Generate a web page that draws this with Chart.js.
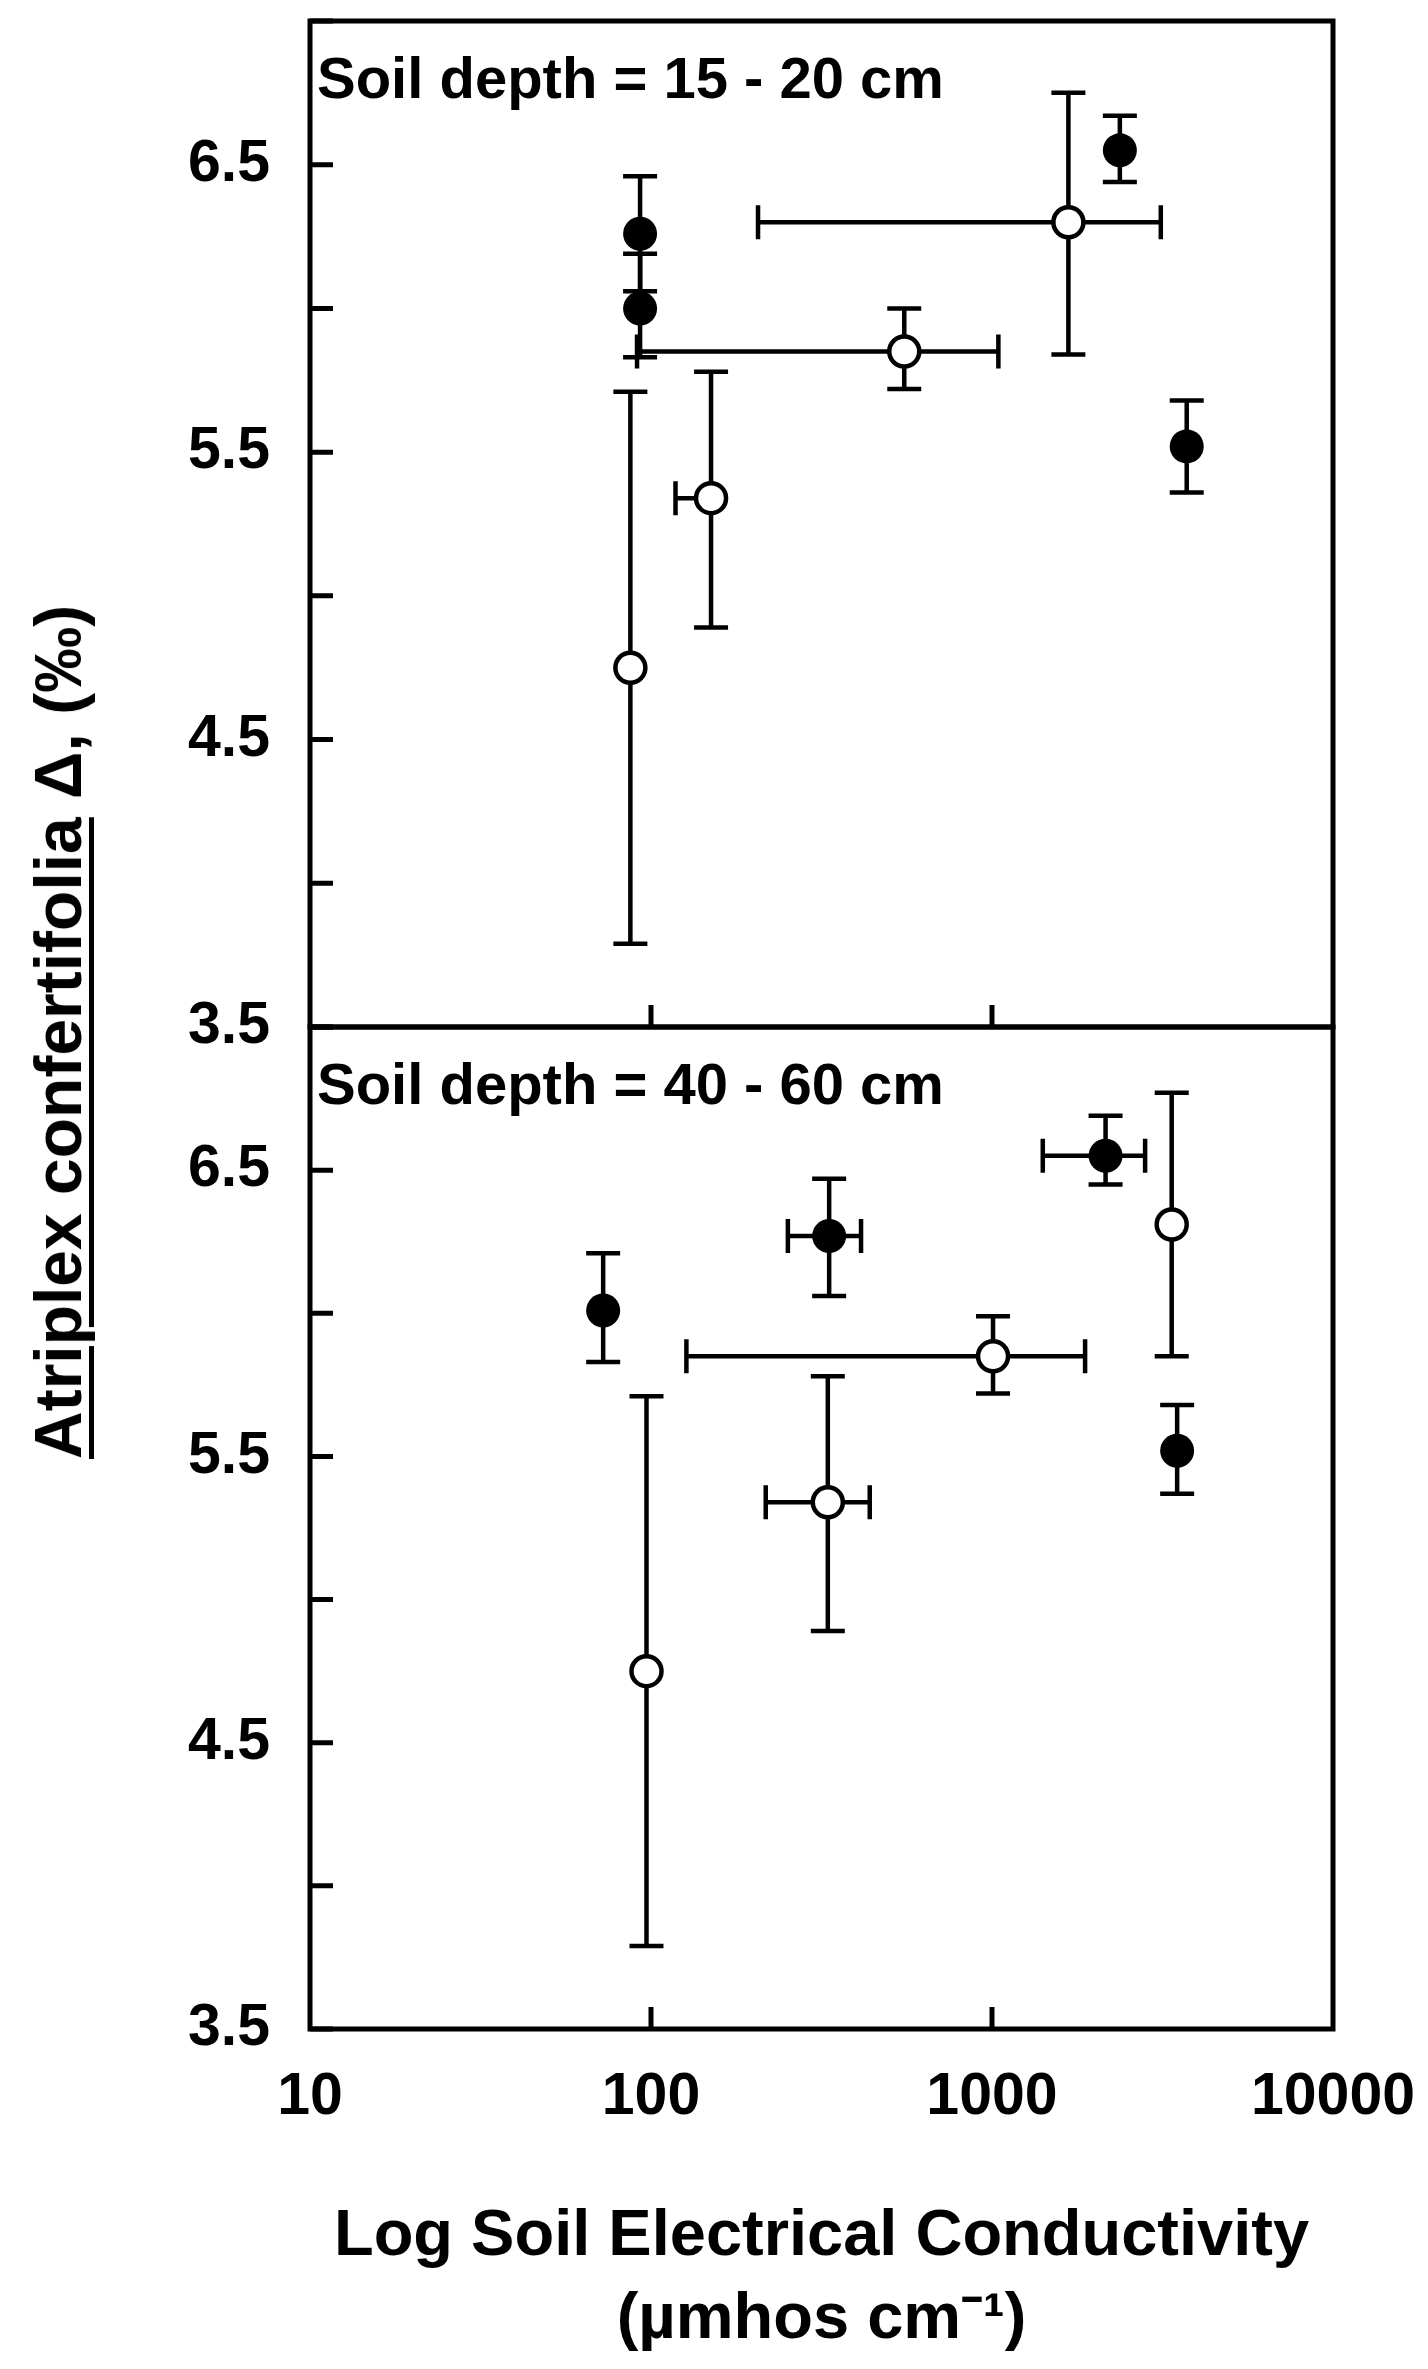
<!DOCTYPE html>
<html>
<head>
<meta charset="utf-8">
<script src="https://cdn.jsdelivr.net/npm/chart.js@4.4.1/dist/chart.umd.min.js"></script>
<style>
  html, body { margin: 0; padding: 0; background: #fff; }
  #wrap { position: relative; width: 1428px; height: 2369px; overflow: hidden; }
  canvas { position: absolute; left: 0; }
  #topChart { top: 0; }
  #botChart { top: 1000px; }
  #ytitle {
    position: absolute; left: 58px; top: 1032px;
    transform: translate(-50%, -50%) rotate(-90deg);
    font: bold 66px "Liberation Sans", Arial, sans-serif; line-height: 1;
    white-space: nowrap; color: #000;
  }
  #ytitle u { text-decoration-thickness: 5px; text-underline-offset: 8px; }
</style>
</head>
<body>
<div id="wrap">
  <canvas id="topChart" width="1428" height="1100"></canvas>
  <canvas id="botChart" width="1428" height="1369"></canvas>
  <div id="ytitle"><u>Atriplex confertifolia</u> Δ, (‰)</div>
</div>
<script>
const panelLabels = ["Soil depth = 15 - 20 cm", "Soil depth = 40 - 60 cm"];
const xTicks = [10, 100, 1000, 10000];
const yLabelled = [3.5, 4.5, 5.5, 6.5];
const xTitle = ["Log Soil Electrical Conductivity", "(µmhos cm⁻¹)"];

// 15 - 20 cm, filled circles
const topFilledX = [92.9, 92.9, 2371, 3724];
const topFilledY = [6.26, 6.0, 6.55, 5.52];
const topFilledYLo = [6.06, 5.83, 6.44, 5.36];
const topFilledYHi = [6.46, 6.19, 6.67, 5.68];
const topFilledXLo = [null, null, null, null];
const topFilledXHi = [null, null, null, null];

// 15 - 20 cm, open circles
const topOpenX = [1675, 553, 150, 87];
const topOpenY = [6.30, 5.85, 5.34, 4.75];
const topOpenYLo = [5.84, 5.72, 4.89, 3.79];
const topOpenYHi = [6.75, 6.00, 5.78, 5.71];
const topOpenXLo = [206, 91, 118, null];
const topOpenXHi = [3126, 1044, null, null];

// 40 - 60 cm, filled circles
const botFilledX = [72.4, 333, 2153, 3491];
const botFilledY = [6.01, 6.27, 6.55, 5.52];
const botFilledYLo = [5.83, 6.06, 6.45, 5.37];
const botFilledYHi = [6.21, 6.47, 6.69, 5.68];
const botFilledXLo = [null, 252, 1409, null];
const botFilledXHi = [null, 413, 2812, null];

// 40 - 60 cm, open circles
const botOpenX = [3365, 1007, 330, 97];
const botOpenY = [6.31, 5.85, 5.34, 4.75];
const botOpenYLo = [5.85, 5.72, 4.89, 3.79];
const botOpenYHi = [6.77, 5.99, 5.78, 5.71];
const botOpenXLo = [null, 127, 217, null];
const botOpenXHi = [null, 1875, 438, null];

Chart.defaults.font.family = '"Liberation Sans", Arial, sans-serif';
Chart.defaults.font.weight = "bold";
Chart.defaults.color = "#000";

function series(xs, ys, yLo, yHi, xLo, xHi, open) {
  return {
    data: xs.map((x, i) => ({ x, y: ys[i] })),
    yLo, yHi, xLo, xHi,
    pointRadius: open ? 15 : 17,
    pointHoverRadius: open ? 15 : 17,
    pointBackgroundColor: open ? "#fff" : "#000",
    pointBorderColor: "#000",
    pointBorderWidth: open ? 4.5 : 0,
    showLine: false
  };
}

// error bars go under the markers
const errorBars = {
  id: "errorBars",
  beforeDatasetsDraw(chart) {
    const { ctx, scales: { x, y } } = chart;
    const cap = 17;
    ctx.save();
    ctx.strokeStyle = "#000";
    ctx.lineWidth = 4.5;
    chart.data.datasets.forEach(ds => {
      ds.data.forEach((p, i) => {
        const px = x.getPixelForValue(p.x), py = y.getPixelForValue(p.y);
        ctx.beginPath();
        [ds.yLo[i], ds.yHi[i]].forEach(v => {
          if (v == null) return;
          const e = y.getPixelForValue(v);
          ctx.moveTo(px, py); ctx.lineTo(px, e);
          ctx.moveTo(px - cap, e); ctx.lineTo(px + cap, e);
        });
        [ds.xLo[i], ds.xHi[i]].forEach(v => {
          if (v == null) return;
          const e = x.getPixelForValue(v);
          ctx.moveTo(px, py); ctx.lineTo(e, py);
          ctx.moveTo(e, py - cap); ctx.lineTo(e, py + cap);
        });
        ctx.stroke();
      });
    });
    ctx.restore();
  }
};

// box, inward ticks and the panel label
const frame = {
  id: "frame",
  afterDraw(chart, args, opts) {
    const { ctx, chartArea: a, scales: { x, y } } = chart;
    ctx.save();
    ctx.strokeStyle = "#000";
    ctx.lineWidth = 5;
    ctx.strokeRect(a.left, a.top, a.right - a.left, a.bottom - a.top);
    ctx.beginPath();
    y.ticks.forEach(t => {
      const py = y.getPixelForValue(t.value);
      ctx.moveTo(a.left, py); ctx.lineTo(a.left + 23, py);
    });
    xTicks.slice(1, -1).forEach(v => {
      const px = x.getPixelForValue(v);
      ctx.moveTo(px, a.bottom); ctx.lineTo(px, a.bottom - 22);
    });
    ctx.stroke();
    ctx.fillStyle = "#000";
    ctx.font = 'bold 58px "Liberation Sans", Arial, sans-serif';
    ctx.textBaseline = "alphabetic";
    ctx.fillText(opts.text, a.left + 7, a.top + 77);
    ctx.restore();
  }
};

function makeChart(id, datasets, label, bottom) {
  return new Chart(document.getElementById(id), {
    type: "scatter",
    data: { datasets },
    plugins: [errorBars, frame],
    options: {
      responsive: false,
      animation: false,
      events: [],
      layout: {
        padding: bottom
          ? { top: 27, right: 95, bottom: 0, left: 0 }
          : { top: 21, right: 95, bottom: 73, left: 0 }
      },
      plugins: {
        legend: { display: false },
        tooltip: { enabled: false },
        frame: { text: label }
      },
      scales: {
        x: {
          type: "logarithmic",
          min: 10,
          max: 10000,
          display: bottom,
          afterBuildTicks: s => { s.ticks = xTicks.map(v => ({ value: v })); },
          afterFit: s => {
            if (!bottom) return;
            s.height = 340; s.paddingLeft = 0; s.paddingRight = 0;
          },
          grid: { display: false, drawTicks: false },
          border: { display: false },
          ticks: {
            padding: 33, maxRotation: 0, autoSkip: false,
            font: { size: 59 },
            callback: v => String(v)
          },
          title: {
            display: true,
            text: xTitle,
            font: { size: 65, lineHeight: 1.28 },
            padding: { top: 0, bottom: 7 }
          }
        },
        y: {
          min: 3.5,
          max: 7.0,
          afterFit: s => { s.width = 310; s.paddingTop = 0; s.paddingBottom = 0; },
          grid: { display: false, drawTicks: false },
          border: { display: false },
          ticks: {
            stepSize: 0.5, padding: 40, autoSkip: false,
            font: { size: 59 },
            callback: v => (yLabelled.includes(v) ? v.toFixed(1) : "")
          }
        }
      }
    }
  });
}

makeChart("topChart", [
  series(topFilledX, topFilledY, topFilledYLo, topFilledYHi, topFilledXLo, topFilledXHi, false),
  series(topOpenX, topOpenY, topOpenYLo, topOpenYHi, topOpenXLo, topOpenXHi, true)
], panelLabels[0], false);

makeChart("botChart", [
  series(botFilledX, botFilledY, botFilledYLo, botFilledYHi, botFilledXLo, botFilledXHi, false),
  series(botOpenX, botOpenY, botOpenYLo, botOpenYHi, botOpenXLo, botOpenXHi, true)
], panelLabels[1], true);
</script>
</body>
</html>
